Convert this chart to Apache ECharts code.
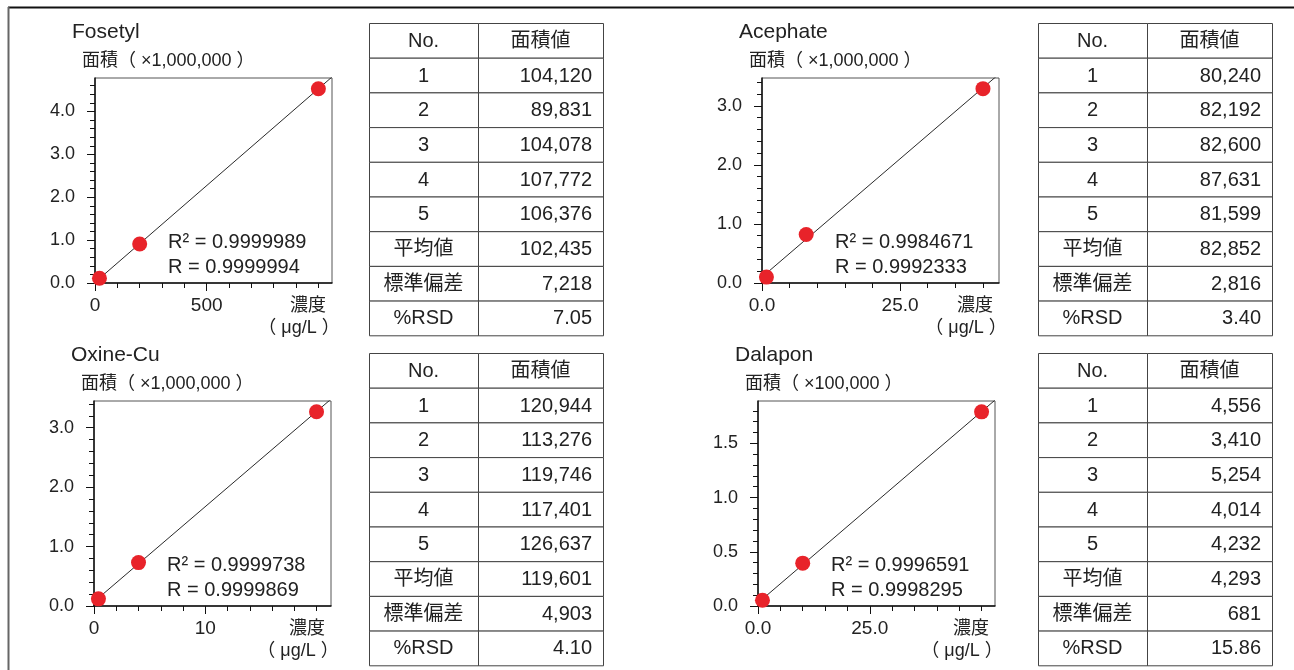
<!DOCTYPE html>
<html>
<head>
<meta charset="utf-8">
<script src="https://cdn.jsdelivr.net/npm/echarts@6/dist/echarts.min.js"></script>
<style>
  html, body { margin: 0; background: #fff; }
  #chart { width: 1294px; height: 670px; }
</style>
</head>
<body>
<div id="chart"></div>
<script>
// 化合物名・縦軸単位
const compounds = ["Fosetyl", "Acephate", "Oxine-Cu", "Dalapon"];
const unitLabels = ["面積（ ×1,000,000 ）", "面積（ ×1,000,000 ）", "面積（ ×1,000,000 ）", "面積（ ×100,000 ）"];

// 検量線の点（濃度 μg/L, 面積）
const concFosetyl = [20, 200, 1000];
const areaFosetyl = [0.11, 0.91, 4.53];
const concAcephate = [0.8, 8, 40];
const areaAcephate = [0.1, 0.82, 3.29];
const concOxine = [0.4, 4, 20];
const areaOxine = [0.12, 0.73, 3.27];
const concDalapon = [1, 10, 50];
const areaDalapon = [0.053, 0.395, 1.79];

const r2Values = ["0.9999989", "0.9984671", "0.9999738", "0.9996591"];
const rValues = ["0.9999994", "0.9992333", "0.9999869", "0.9998295"];

// 軸の範囲と目盛
const xMax = [1061, 42.9, 21.3, 53];
const yMax = [4.78, 3.47, 3.45, 1.89];
const xTicks = [[0, 500], [0, 25], [0, 10], [0, 25]];
const xMinorStep = [100, 5, 2, 5];
const xDecimals = [0, 1, 0, 1];
const yTicks = [[0, 1, 2, 3, 4], [0, 1, 2, 3], [0, 1, 2, 3], [0, 0.5, 1, 1.5]];
const yMinorStep = [0.2, 0.2, 0.2, 0.1];

// 繰り返し測定（面積値）
const rowHeads = ["1", "2", "3", "4", "5", "平均値", "標準偏差", "%RSD"];
const repFosetyl = [104120, 89831, 104078, 107772, 106376];
const statFosetyl = ["102,435", "7,218", "7.05"];
const repAcephate = [80240, 82192, 82600, 87631, 81599];
const statAcephate = ["82,852", "2,816", "3.40"];
const repOxine = [120944, 113276, 119746, 117401, 126637];
const statOxine = ["119,601", "4,903", "4.10"];
const repDalapon = [4556, 3410, 5254, 4014, 4232];
const statDalapon = ["4,293", "681", "15.86"];

const conc = [concFosetyl, concAcephate, concOxine, concDalapon];
const area = [areaFosetyl, areaAcephate, areaOxine, areaDalapon];
const reps = [repFosetyl, repAcephate, repOxine, repDalapon];
const stats = [statFosetyl, statAcephate, statOxine, statDalapon];

const FONT = "'Liberation Sans', Arial, 'Noto Sans CJK JP', sans-serif";
const TXT = "#222";

// 配置
const panels = [
  { left: 95, top: 78, tx: 369, ty: 23 },
  { left: 762, top: 78, tx: 1038, ty: 23 },
  { left: 94, top: 401, tx: 369, ty: 353 },
  { left: 758, top: 401, tx: 1038, ty: 353 },
];
const GW = 237, GH = 205;
const colW = [109, 125], rowH = 34.7;

function steps(max, step) {
  const out = [];
  for (let v = 0; v <= max + 1e-9; v += step) out.push(+v.toFixed(6));
  return out;
}

// 最小二乗直線
function fit(xs, ys) {
  const n = xs.length;
  const mx = xs.reduce((a, b) => a + b, 0) / n;
  const my = ys.reduce((a, b) => a + b, 0) / n;
  let sxy = 0, sxx = 0;
  for (let i = 0; i < n; i++) {
    sxy += (xs[i] - mx) * (ys[i] - my);
    sxx += (xs[i] - mx) * (xs[i] - mx);
  }
  const a = sxy / sxx;
  return { a: a, b: my - a * mx };
}

const grid = [], xAxis = [], yAxis = [], series = [], title = [], graphic = [];

panels.forEach(function (p, i) {
  grid.push({
    left: p.left, top: p.top, width: GW, height: GH,
    show: true, borderColor: "#555", borderWidth: 1,
  });

  const tickStyle = { color: "#111", width: 1 };
  xAxis.push({
    gridIndex: i, type: "value", position: "bottom", min: 0, max: xMax[i],
    axisLine: { show: true, onZero: false, lineStyle: { color: "#111", width: 1.5 } },
    axisTick: { show: true, customValues: xTicks[i], length: 8, lineStyle: tickStyle },
    axisLabel: {
      customValues: xTicks[i], margin: 13, fontSize: 19, color: TXT, fontFamily: FONT,
      formatter: function (v) { return Number(v).toFixed(xDecimals[i]); },
    },
    splitLine: { show: false },
  });
  xAxis.push({
    gridIndex: i, type: "value", position: "bottom", min: 0, max: xMax[i],
    axisLine: { show: true, onZero: false, lineStyle: { color: "rgba(0,0,0,0)" } },
    axisTick: { show: true, customValues: steps(xMax[i], xMinorStep[i]), length: 5, lineStyle: tickStyle },
    axisLabel: { show: false },
    splitLine: { show: false },
  });
  yAxis.push({
    gridIndex: i, type: "value", position: "left", min: 0, max: yMax[i],
    axisLine: { show: true, onZero: false, lineStyle: { color: "#111", width: 1.5 } },
    axisTick: { show: true, customValues: yTicks[i], length: 8, lineStyle: tickStyle },
    axisLabel: {
      customValues: yTicks[i], margin: 20, fontSize: 18, color: TXT, fontFamily: FONT,
      formatter: function (v) { return Number(v).toFixed(1); },
    },
    splitLine: { show: false },
  });
  yAxis.push({
    gridIndex: i, type: "value", position: "left", min: 0, max: yMax[i],
    axisLine: { show: true, onZero: false, lineStyle: { color: "rgba(0,0,0,0)" } },
    axisTick: { show: true, customValues: steps(yMax[i], yMinorStep[i]), length: 5, lineStyle: tickStyle },
    axisLabel: { show: false },
    splitLine: { show: false },
  });

  const f = fit(conc[i], area[i]);
  series.push({
    type: "line", xAxisIndex: 2 * i, yAxisIndex: 2 * i,
    data: [[0, f.b], [xMax[i], f.a * xMax[i] + f.b]],
    symbol: "none", clip: true,
    lineStyle: { color: "#111", width: 0.9 },
    silent: true, z: 2,
  });
  series.push({
    type: "scatter", xAxisIndex: 2 * i, yAxisIndex: 2 * i,
    data: conc[i].map(function (c, k) { return [c, area[i][k]]; }),
    symbolSize: 15, itemStyle: { color: "#e8232a", opacity: 1 },
    z: 3,
  });

  title.push({
    text: compounds[i], left: p.left - 23, top: p.top - 56, padding: 0,
    textStyle: { fontSize: 21, fontWeight: "normal", color: TXT, fontFamily: FONT },
  });
  title.push({
    text: unitLabels[i], left: p.left - 13, top: p.top - 26, padding: 0,
    textStyle: { fontSize: 18, fontWeight: "normal", color: TXT, fontFamily: FONT },
  });

  const right = p.left + GW, bottom = p.top + GH;
  const txt = function (s, x, y, size, align) {
    return {
      type: "text", x: x, y: y, silent: true,
      style: { text: s, fill: TXT, font: size + "px " + FONT, textAlign: align || "left", textVerticalAlign: "middle" },
    };
  };
  graphic.push(txt("R² = " + r2Values[i], p.left + 73, bottom - 41, 20));
  graphic.push(txt("R = " + rValues[i], p.left + 73, bottom - 16, 20));
  graphic.push(txt("濃度", right - 24, bottom + 23, 18, "center"));
  graphic.push(txt("（ μg/L ）", right - 33, bottom + 45, 18, "center"));

  // 表
  const rows = [["No.", "面積値"]];
  rowHeads.forEach(function (h, k) {
    const v = k < 5 ? reps[i][k].toLocaleString("en-US") : stats[i][k - 5];
    rows.push([h, v]);
  });
  rows.forEach(function (r, k) {
    const y = p.ty + k * rowH;
    graphic.push({
      type: "rect", silent: true,
      shape: { x: p.tx + 0.5, y: y + 0.5, width: colW[0], height: rowH },
      style: { fill: "#fff", stroke: "#444", lineWidth: 1 },
    });
    graphic.push({
      type: "rect", silent: true,
      shape: { x: p.tx + colW[0] + 0.5, y: y + 0.5, width: colW[1], height: rowH },
      style: { fill: "#fff", stroke: "#444", lineWidth: 1 },
    });
    graphic.push(Object.assign(txt(r[0], p.tx + colW[0] / 2, y + rowH / 2 + 1, 20, "center"), { z: 10 }));
    if (k === 0) {
      graphic.push(Object.assign(txt(r[1], p.tx + colW[0] + colW[1] / 2, y + rowH / 2 + 1, 20, "center"), { z: 10 }));
    } else {
      graphic.push(Object.assign(txt(r[1], p.tx + colW[0] + colW[1] - 11, y + rowH / 2 + 1, 20, "right"), { z: 10 }));
    }
  });
});

// 外枠（上と左）
graphic.push({ type: "line", silent: true, shape: { x1: 8, y1: 7.5, x2: 1294, y2: 7.5 }, style: { stroke: "#111", lineWidth: 2 } });
graphic.push({ type: "line", silent: true, shape: { x1: 8.5, y1: 7, x2: 8.5, y2: 670 }, style: { stroke: "#666", lineWidth: 2 } });

const myChart = echarts.init(document.getElementById("chart"));
myChart.setOption({
  animation: false,
  backgroundColor: "#fff",
  title: title,
  grid: grid,
  xAxis: xAxis,
  yAxis: yAxis,
  series: series,
  graphic: graphic,
});
</script>
</body>
</html>
